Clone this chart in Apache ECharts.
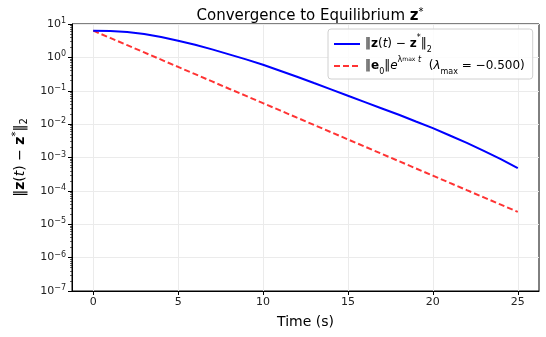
<!DOCTYPE html>
<html><head><meta charset="utf-8">
<script src="https://cdn.jsdelivr.net/npm/echarts@6/dist/echarts.min.js"></script>
<style>html,body{margin:0;padding:0;background:#fff}#c{width:546px;height:337px}</style>
</head><body><div id="c"></div>
<script>
// Data
const times = [0,1,2,3,4,5,6,7,8,9,10,11,12,13,14,15,16,17,18,19,20,21,22,23,24,25];
const normValues = [6.31,6.17,5.75,5.01,4.07,3.16,2.40,1.74,1.23,0.871,0.603,0.398,0.263,0.170,0.110,0.0708,0.0457,0.0295,0.0191,0.0120,0.00759,0.00457,0.00275,0.00158,0.000891,0.000479];
const boundValues = [6.3,3.82,2.32,1.41,0.853,0.517,0.314,0.190,0.115,0.0700,0.0424,0.0258,0.0156,0.00947,0.00574,0.00348,0.00211,0.00128,0.000777,0.000471,0.000286,0.000173,0.000105,0.0000638,0.0000387,0.0000235];
const xTicks = [0,5,10,15,20,25];
const yMin = 1e-7, yMax = 10;

const FONT = 'DejaVu Sans';
const minorY = [];
for (let e = -7; e < 1; e++) for (let m = 2; m <= 9; m++) minorY.push(+(m + 'e' + e));

const chart = echarts.init(document.getElementById('c'));
const supRich = {
  b: {fontFamily: FONT, fontSize: 11, color: '#222'},
  s: {fontFamily: FONT, fontSize: 8, color: '#222', verticalAlign: 'top', padding: [0,0,6,0]}
};
const legRich = {
  n: {fontFamily: FONT, fontSize: 12, color: '#000', lineHeight: 20},
  b: {fontFamily: FONT, fontSize: 12, fontWeight: 'bold', color: '#000', lineHeight: 20},
  i: {fontFamily: FONT, fontSize: 12, fontStyle: 'italic', color: '#000', lineHeight: 20},
  sup: {fontFamily: FONT, fontSize: 8, color: '#000', verticalAlign: 'top', padding: [0,0,7,0]},
  supi: {fontFamily: FONT, fontSize: 8, fontStyle: 'italic', color: '#000', verticalAlign: 'top', padding: [0,0,7,0]},
  supsub: {fontFamily: FONT, fontSize: 6, color: '#000', verticalAlign: 'top', padding: [0,0,3,0]},
  sub: {fontFamily: FONT, fontSize: 8, color: '#000', verticalAlign: 'bottom', padding: [0,0,0,0]}
};
const nameRich = {
  n: {fontFamily: FONT, fontSize: 14, color: '#000'},
  b: {fontFamily: FONT, fontSize: 14, fontWeight: 'bold', color: '#000'},
  i: {fontFamily: FONT, fontSize: 14, fontStyle: 'italic', color: '#000'},
  sup: {fontFamily: FONT, fontSize: 10, color: '#000', verticalAlign: 'top', padding: [0,0,8,0]},
  sub: {fontFamily: FONT, fontSize: 10, color: '#000', verticalAlign: 'bottom', padding: [2,0,0,0]}
};
const titleRich = {
  n: {fontFamily: FONT, fontSize: 15, fontWeight: 'normal', color: '#000'},
  b: {fontFamily: FONT, fontSize: 15, fontWeight: 'bold', color: '#000'},
  sup: {fontFamily: FONT, fontSize: 10, fontWeight: 'normal', color: '#000', verticalAlign: 'top', padding: [0,0,8,0]}
};

chart.setOption({
  animation: false,
  title: {
    text: '{n|Convergence to Equilibrium }{b|z}{sup|*}',
    left: 305, top: 2, textAlign: 'center',
    textStyle: {fontWeight: 'normal', rich: titleRich}
  },
  grid: {left: 72, right: 7, top: 24, bottom: 46, show: true, borderColor: '#000', borderWidth: 1, backgroundColor: 'transparent'},
  legend: {
    orient: 'vertical', left: 328, top: 29,
    padding: [5, 8, 3, 5], itemGap: 2,
    itemWidth: 26, itemHeight: 12,
    backgroundColor: 'rgba(255,255,255,0.85)',
    borderColor: '#d0d0d0', borderWidth: 1, borderRadius: 3,
    itemStyle: {opacity: 0},
    data: [{name: 'norm'}, {name: 'bound'}],
    formatter: function (name) {
      if (name === 'norm') return '{n|‖}{b|z}{n|(}{i|t}{n|) − }{b|z}{sup|*}{n|‖}{sub|2}';
      return '{n|‖}{b|e}{sub|0}{n|‖}{i|e}{sup|λ}{supsub|max}{supi| t}{n|  (}{i|λ}{sub|max}{n| = −0.500)}';
    },
    textStyle: {rich: legRich}
  },
  xAxis: {
    type: 'value', min: -1.25, max: 26.25,
    name: 'Time (s)', nameLocation: 'middle', nameGap: 24,
    nameTextStyle: {fontFamily: FONT, fontSize: 14, color: '#000'},
    axisLine: {show: true, onZero: false, lineStyle: {color: '#000'}},
    axisTick: {show: true, length: 4, customValues: xTicks, lineStyle: {color: '#000'}},
    axisLabel: {customValues: xTicks, fontFamily: FONT, fontSize: 11, color: '#222', margin: 6},
    splitLine: {show: true, lineStyle: {color: '#ebebeb', width: 1}}
  },
  yAxis: [{
    type: 'log', logBase: 10, min: yMin, max: yMax,
    name: '{n|‖}{b|z}{n|(}{i|t}{n|) − }{b|z}{sup|*}{n|‖}{sub|2}',
    nameLocation: 'middle', nameGap: 43,
    nameTextStyle: {rich: nameRich},
    axisLine: {show: true, onZero: false, lineStyle: {color: '#000'}},
    axisTick: {show: true, length: 4, lineStyle: {color: '#000'}},
    axisLabel: {
      fontFamily: FONT, fontSize: 11, color: '#222', margin: 6,
      formatter: function (v) {
        const e = Math.round(Math.log10(v));
        return '{b|10}{s|' + (e < 0 ? '−' + (-e) : e) + '}';
      },
      rich: supRich
    },
    splitLine: {show: true, lineStyle: {color: '#ebebeb', width: 1}}
  }, {
    type: 'log', logBase: 10, min: yMin, max: yMax, position: 'left',
    axisLine: {show: false, onZero: false},
    axisTick: {show: true, length: 2, customValues: minorY, lineStyle: {color: '#000', width: 0.6}},
    axisLabel: {show: false, customValues: minorY},
    splitLine: {show: false}
  }],
  series: [{
    name: 'norm', type: 'line', symbol: 'none', smooth: false,
    data: times.map((t, i) => [t, normValues[i]]),
    lineStyle: {color: '#0000ff', width: 2},
    itemStyle: {color: '#0000ff'}, z: 3
  }, {
    name: 'bound', type: 'line', symbol: 'none',
    data: times.map((t, i) => [t, boundValues[i]]),
    lineStyle: {color: 'rgba(255,0,0,0.8)', width: 2, type: [6, 3]},
    itemStyle: {color: 'rgba(255,0,0,0.8)'}, z: 2
  }]
});
</script></body></html>
